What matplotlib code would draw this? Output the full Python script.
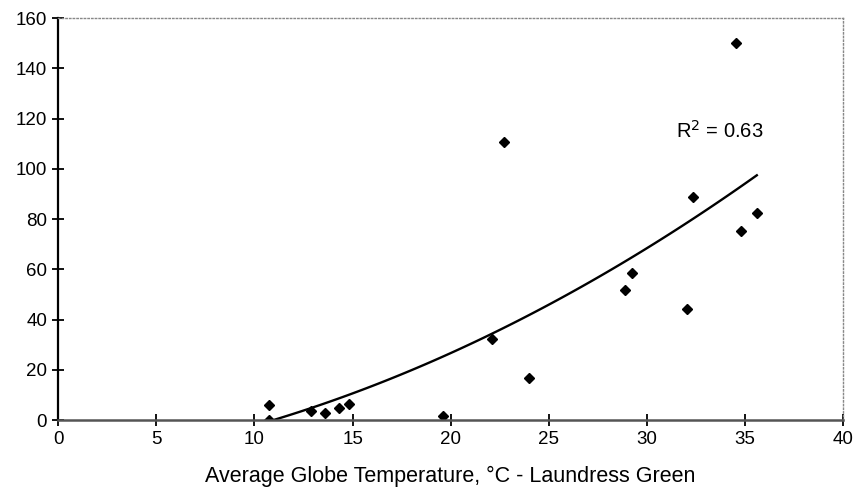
import numpy as np
import matplotlib.pyplot as plt

plt.rcParams['font.family'] = ['Liberation Sans', 'DejaVu Sans']

# globe temperature (deg C) and response values
temp = [10.75, 10.75, 12.9, 13.6, 14.3, 14.8, 19.6, 22.1, 22.7, 24.0,
        28.9, 29.25, 32.05, 32.35, 34.55, 34.8, 35.6]
vals = [6.0, 0.0, 3.5, 2.8, 4.8, 6.4, 1.5, 32.3, 110.8, 16.7,
        51.6, 58.6, 44.2, 88.8, 150.0, 75.3, 82.4]

x = np.array(temp)
y = np.array(vals)

# second order trend line
coef = np.polyfit(x, y, 2)
xs = np.linspace(11.0, 35.6, 100)
ys = np.polyval(coef, xs)

fig = plt.figure(figsize=(8.56, 4.91), dpi=100)
ax = fig.add_axes([0.068, 0.1446, 0.917, 0.8187])

ax.plot(xs, ys, color='black', lw=1.7)
ax.plot(x, y, 'D', color='black', markersize=5, linestyle='none')

ax.text(31.5, 112.3, 'R$^2$ = 0.63', fontsize=14.5)

ax.set_xlim(0, 40)
ax.set_ylim(0, 160)
ax.set_xticks(range(0, 41, 5))
ax.set_yticks(range(0, 161, 20))
ax.tick_params(direction='inout', length=8, width=1.3, labelsize=13.5, pad=4)

ax.spines['left'].set_linewidth(1.6)
ax.spines['bottom'].set_linewidth(1.8)
ax.spines['bottom'].set_color('#555555')
for s in ['top', 'right']:
    ax.spines[s].set_linestyle(':')
    ax.spines[s].set_color('#888888')
    ax.spines[s].set_linewidth(1)

ax.set_xlabel('Average Globe Temperature, °C - Laundress Green', fontsize=15.5, labelpad=13)

fig.savefig('out.png', dpi=100)
